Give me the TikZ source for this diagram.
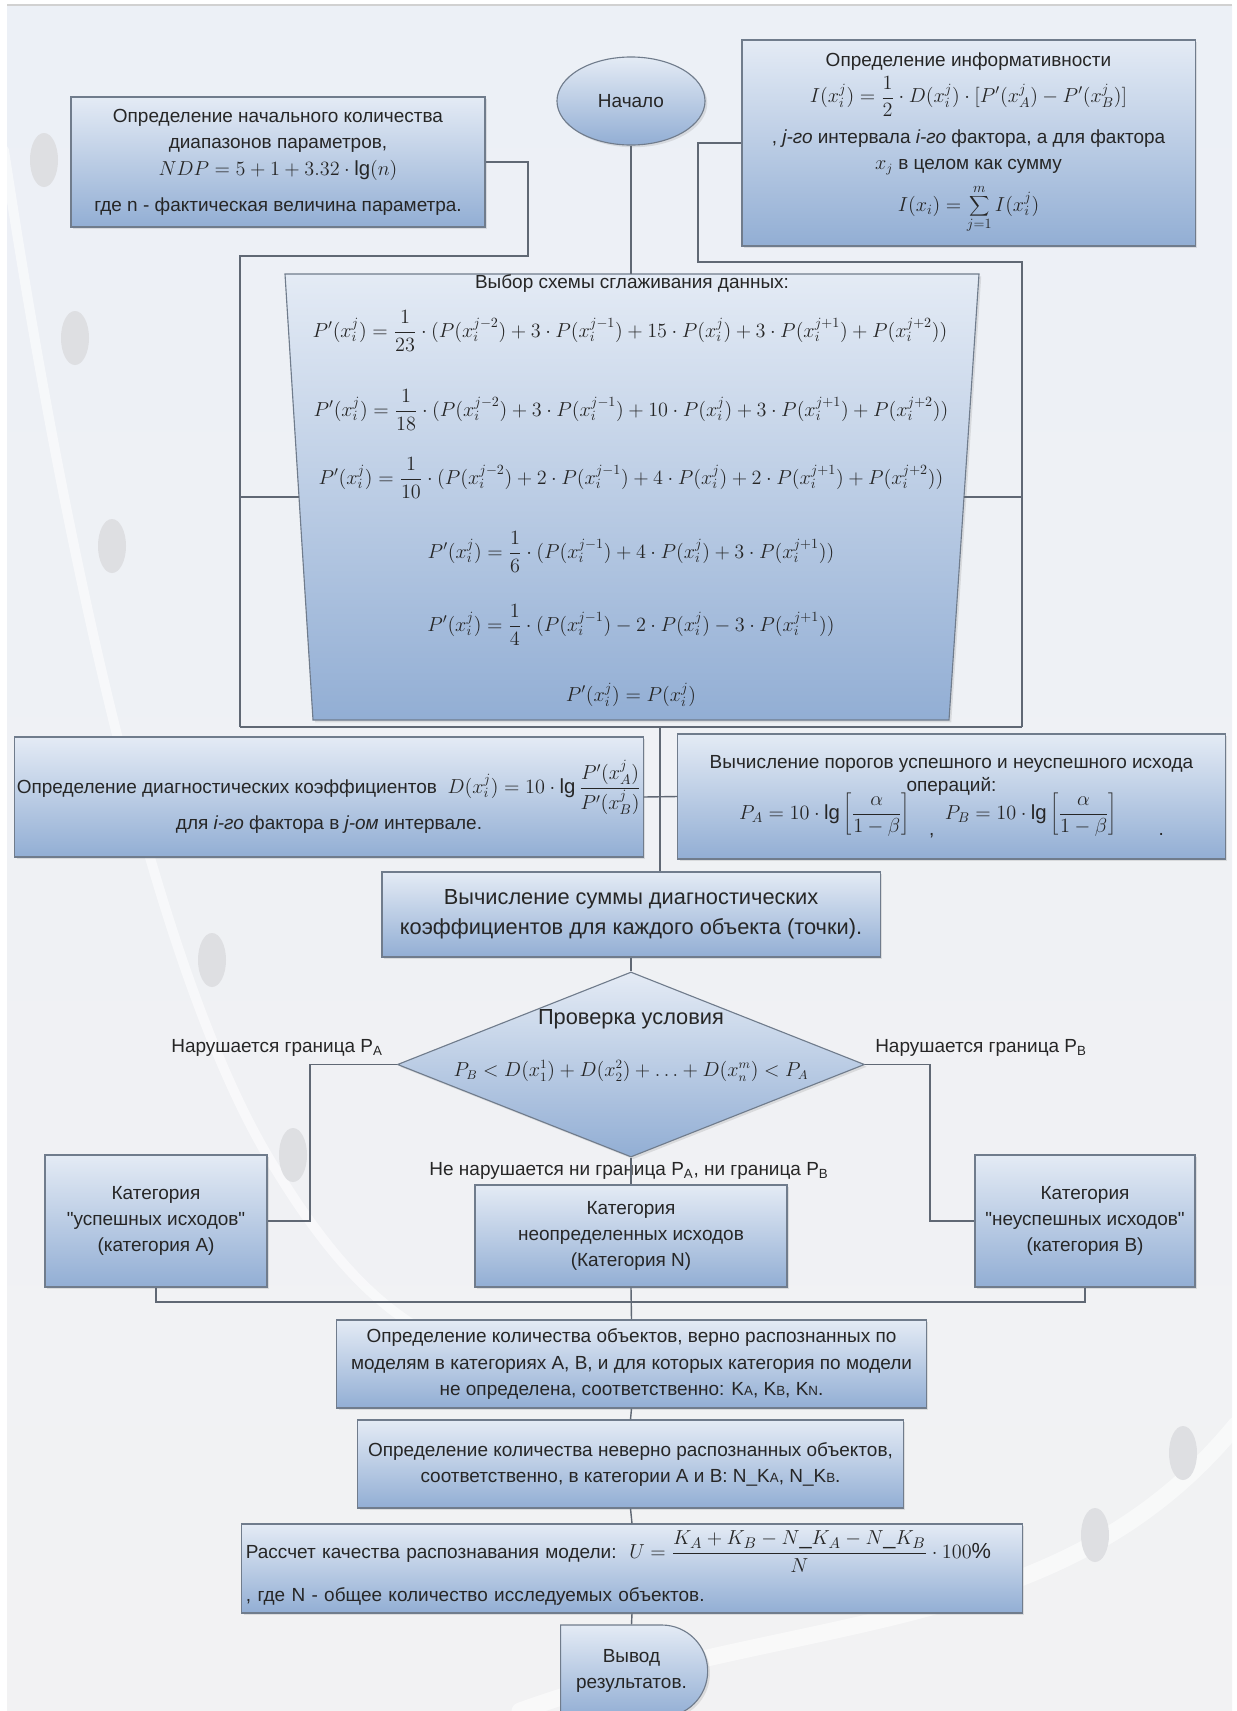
\documentclass[tikz,border=0pt]{standalone}
\usepackage{fontspec}
\setmainfont{Liberation Sans}
\usetikzlibrary{shapes.geometric, shapes.misc, shadows, positioning}

\definecolor{boxtop}{RGB}{228,235,245}
\definecolor{boxbot}{RGB}{146,174,212}
\definecolor{boxline}{RGB}{112,124,140}
\definecolor{linkgray}{RGB}{96,104,116}
\definecolor{ink}{RGB}{38,38,38}
\definecolor{bgtop}{RGB}{236,240,246}
\definecolor{bgbot}{RGB}{242,242,243}
\definecolor{blobgray}{RGB}{222,223,226}

\newcommand{\fm}[1]{{\fontsize{14.5}{17}\selectfont$\displaystyle #1$}}
\newcommand{\smc}[1]{{\fontsize{9.5}{10}\selectfont #1}}

\begin{document}
\begin{tikzpicture}[
  x=0.025cm, y=-0.025cm,
  font=\fontsize{13.5}{18.5}\selectfont,
  boxfill/.style={
    draw=boxline, line width=0.8pt,
    top color=boxtop, bottom color=boxbot,
    drop shadow={shadow xshift=1.6pt, shadow yshift=-1.6pt, opacity=0.2}
  },
  box/.style={boxfill, text=ink, align=center, inner sep=0pt},
  startshape/.style={box, ellipse},
  cond/.style={box, diamond},
  outbox/.style={box, rounded rectangle, rounded rectangle west arc=none},
  plain/.style={text=ink, inner sep=0pt, align=center},
  bigtext/.style={font=\fontsize{15.5}{21}\selectfont},
  link/.style={draw=linkgray, line width=1pt},
  blob/.style={fill=blobgray},
  swoosh/.style={draw=white, line cap=round, opacity=0.55}
]

% Фон
\useasboundingbox (0,0) rectangle (1237,1711);
\fill[top color=bgtop, bottom color=bgbot] (7,5) rectangle (1232,1711);
\draw[black!18, line width=0.8pt] (7,5) -- (1232,5);
\draw[swoosh, line width=7pt]
  (4,150) .. controls (60,520) and (150,960) .. (270,1160)
  .. controls (330,1260) and (380,1310) .. (440,1340);
\draw[swoosh, line width=12pt]
  (520,1711) .. controls (800,1610) and (1060,1640) .. (1236,1425);
\foreach \bx/\by in {44/160, 75/338, 112/546, 212/960, 293/1155, 1183/1453, 1095/1535}
  \fill[blob] (\bx,\by) ellipse [x radius=14, y radius=27];

% Начало и исходные блоки
\node[startshape, minimum width=3.7cm, minimum height=2.2cm] (start) at (631,101) {Начало};
\node[box, minimum width=10.35cm, minimum height=3.25cm] (ndp) at (278,162)
  {Определение начального количества\\диапазонов параметров,\\[1pt]
   \fm{NDP=5+1+3.32\cdot\lg(n)}\\[7pt]
   где n - фактическая величина параметра.};
\node[box, minimum width=11.325cm, minimum height=5.15cm] (info) at (968.5,143)
  {Определение информативности\\[3pt]
   \fm{I(x_i^j)=\frac{1}{2}\cdot D(x_i^j)\cdot[P'(x_A^j)-P'(x_B^j)]}\\[8pt]
   , \textit{j-го} интервала \textit{i-го} фактора, а для фактора\\
   $x_j$ в целом как сумму\\[6pt]
   \fm{I(x_i)=\sum_{j=1}^{m} I(x_i^j)}};

% Выбор схемы сглаживания
\coordinate (smtl) at (285,274);
\coordinate (smtr) at (979,274);
\coordinate (smbr) at (949,720);
\coordinate (smbl) at (313,720);
\coordinate (smleft) at (299,497);
\coordinate (smright) at (964,497);
\coordinate (smtop) at (631,274);
\path[boxfill] (smtl) -- (smtr) -- (smbr) -- (smbl) -- cycle;
\node[plain] (smttl) at (632,284) {Выбор схемы сглаживания данных:};
\node[plain] (sm1) at (630,331)
  {\fm{P'(x_i^j)=\frac{1}{23}\cdot(P(x_i^{j-2})+3\cdot P(x_i^{j-1})+15\cdot P(x_i^j)+3\cdot P(x_i^{j+1})+P(x_i^{j+2}))}};
\node[plain] (sm2) at (631,410)
  {\fm{P'(x_i^j)=\frac{1}{18}\cdot(P(x_i^{j-2})+3\cdot P(x_i^{j-1})+10\cdot P(x_i^j)+3\cdot P(x_i^{j+1})+P(x_i^{j+2}))}};
\node[plain] (sm3) at (631,478)
  {\fm{P'(x_i^j)=\frac{1}{10}\cdot(P(x_i^{j-2})+2\cdot P(x_i^{j-1})+4\cdot P(x_i^j)+2\cdot P(x_i^{j+1})+P(x_i^{j+2}))}};
\node[plain] (sm4) at (631,552)
  {\fm{P'(x_i^j)=\frac{1}{6}\cdot(P(x_i^{j-1})+4\cdot P(x_i^j)+3\cdot P(x_i^{j+1}))}};
\node[plain] (sm5) at (631,625)
  {\fm{P'(x_i^j)=\frac{1}{4}\cdot(P(x_i^{j-1})-2\cdot P(x_i^j)-3\cdot P(x_i^{j+1}))}};
\node[plain] (sm6) at (631,695) {\fm{P'(x_i^j)=P(x_i^j)}};

% Коэффициенты и пороги
\node[box, minimum width=15.7cm, minimum height=3cm] (dcoef) at (329,797)
  {Определение диагностических коэффициентов~~\fm{D(x_i^j)=10\cdot\lg\frac{P'(x_A^j)}{P'(x_B^j)}}\\
   для \textit{i-го} фактора в \textit{j-ом} интервале.};
\node[box, minimum width=13.675cm, minimum height=3.125cm] (thresh) at (951.5,796.5)
  {Вычисление порогов успешного и неуспешного исхода\\[-2pt]операций:\\[-3pt]
   \fm{P_A=10\cdot\lg\left[\frac{\alpha}{1-\beta}\right]}\quad\raisebox{-1.6ex}{,}\;
   \fm{P_B=10\cdot\lg\left[\frac{\alpha}{1-\beta}\right]}\hspace{2.2em}\raisebox{-1.6ex}{.}};
\node[box, bigtext, minimum width=12.45cm, minimum height=2.125cm] (sum) at (631,914.5)
  {Вычисление суммы диагностических\\коэффициентов для каждого объекта (точки).};

% Проверка условия
\node[cond, minimum width=11.675cm, minimum height=4.625cm] (check) at (631,1064.5) {};
\node[plain, bigtext] (checkttl) at (631,1019) {Проверка условия};
\node[plain] (checkf) at (631,1071)
  {$P_B<D(x_1^1)+D(x_2^2)+\ldots+D(x_n^m)<P_A$};
\node[plain, anchor=east] (viola) at (383,1048) {Нарушается граница P\textsubscript{A}};
\node[plain, anchor=west] (violb) at (875,1048) {Нарушается граница P\textsubscript{B}};
\node[plain] (noviol) at (629,1171)
  {Не нарушается ни граница P\textsubscript{A}, ни граница P\textsubscript{B}};

% Категории
\node[box, minimum width=5.55cm, minimum height=3.3cm] (catA) at (156,1221)
  {Категория\\\textquotedbl успешных исходов\textquotedbl\\(категория А)};
\node[box, minimum width=7.8cm, minimum height=2.55cm] (catN) at (631,1236)
  {Категория\\неопределенных исходов\\(Категория N)};
\node[box, minimum width=5.5cm, minimum height=3.3cm] (catB) at (1085,1221)
  {Категория\\\textquotedbl неуспешных исходов\textquotedbl\\(категория В)};

% Итоговые блоки
\node[box, minimum width=14.725cm, minimum height=2.2cm] (count) at (631.5,1364)
  {Определение количества объектов, верно распознанных по\\
   моделям в категориях А, В, и для которых категория по модели\\
   не определена, соответственно: K\smc{A}, K\smc{B}, K\smc{N}.};
\node[box, minimum width=13.625cm, minimum height=2.2cm] (wrong) at (630.5,1464)
  {Определение количества неверно распознанных объектов,\\
   соответственно, в категории А и В: N\_K\smc{A}, N\_K\smc{B}.};
\node[box, text width=19.3cm, inner xsep=0.1cm, minimum height=2.225cm, align=left] (quality) at (632,1568.5)
  {\mbox{Рассчет качества распознавания модели:~~{\fontsize{15.5}{18}\selectfont$\displaystyle U=\frac{K_A+K_B-N\mbox{\_}K_A-N\mbox{\_}K_B}{N}\cdot 100\%$}}\\[10pt]
   , где N - общее количество исследуемых объектов.};
\node[outbox, minimum width=3.675cm, minimum height=2.3cm] (out) at (631.5,1671)
  {Вывод\\результатов.};

% Рамка вокруг сглаживания
\coordinate (ndpturn) at (528,256);
\coordinate (infoturn) at (698,262);
\coordinate (lb) at (240,727);
\coordinate (rb) at (1022,727);
\coordinate (jm) at (660,727);
\draw[link] (ndp.east) -| (ndpturn) -| (lb);
\draw[link] (info.west) -| (infoturn) -| (rb);
\draw[link] (lb) -- (rb);
\draw[link] (lb |- smleft) -- (smleft);
\draw[link] (smright) -- (rb |- smright);
\draw[link] (start.south) -- (smtop);

% Связи
\draw[link] (jm) -- (jm |- sum.north);
\draw[link] (dcoef.east) -- (thresh.west);
\draw[link] (sum.south) -- (check.north);
\coordinate (aturn) at (310,1064.5);
\coordinate (bturn) at (930,1064.5);
\coordinate (botjoin) at (631,1302);
\draw[link] (check.west) -- (aturn) |- (catA.east);
\draw[link] (check.east) -- (bturn) |- (catB.west);
\draw[link] (check.south) -- (catN.north);
\draw[link] (catA.south) |- (botjoin) -| (catB.south);
\draw[link] (catN.south) -- (count.north);
\draw[link] (count.south) -- (wrong.north);
\draw[link] (wrong.south) -- (quality.north);
\draw[link] (quality.south) -- (out.north);

\end{tikzpicture}
\end{document}
